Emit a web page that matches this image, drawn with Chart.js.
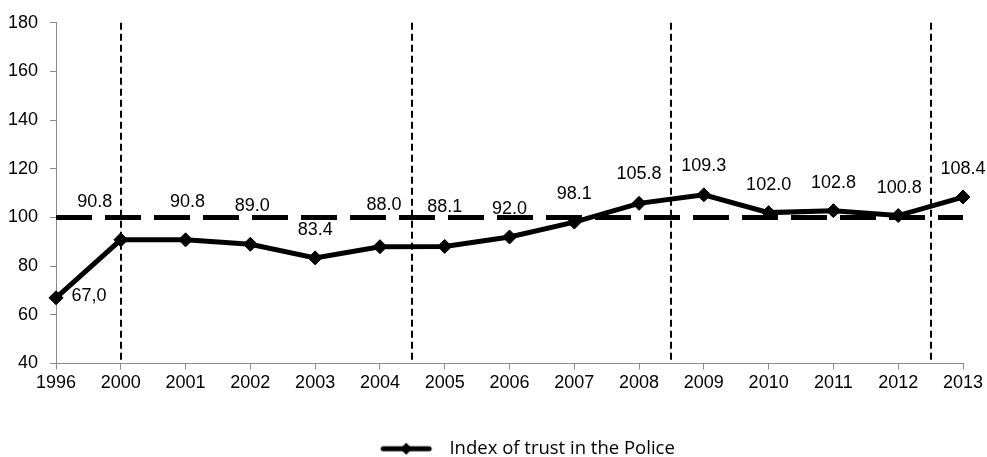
<!DOCTYPE html>
<html lang="en">
<head>
    <meta charset="UTF-8">
    <title>Index of trust in the Police</title>
    <script src="https://cdn.jsdelivr.net/npm/chart.js"></script>
    <style>
        body {
            margin: 0;
            background-color: #fff;
        }
        #wrap {
            width: 987px;
            height: 457px;
            position: relative;
        }
    </style>
</head>
<body>

<div id="wrap">
    <canvas id="trustChart"></canvas>
</div>

<script>
    // Dados
    const years = ['1996', '2000', '2001', '2002', '2003', '2004', '2005', '2006',
                   '2007', '2008', '2009', '2010', '2011', '2012', '2013'];
    const trustIndex = [67.0, 90.8, 90.8, 89.0, 83.4, 88.0, 88.1, 92.0,
                        98.1, 105.8, 109.3, 102.0, 102.8, 100.8, 108.4];
    const valueLabels = ['67,0', '90.8', '90.8', '89.0', '83.4', '88.0', '88.1', '92.0',
                         '98.1', '105.8', '109.3', '102.0', '102.8', '100.8', '108.4'];
    const referenceLevel = 100;
    // posições (em índice de categoria) das linhas verticais tracejadas
    const periodBreaks = [1, 5.5, 9.5, 13.5];
    const yMin = 40;
    const yMax = 180;
    const yStep = 20;

    const axisGray = '#8a8a8a';
    const tickFont = { family: '"Liberation Sans", Arial, sans-serif', size: 18 };

    // deslocamento de cada rótulo em relação ao ponto (dx, dy)
    const labelOffsets = [
        [33, -2], [-26, -38], [2, -38], [2, -38], [0, -28], [4, -42], [0, -39], [0, -28],
        [0, -28], [0, -29], [0, -29], [0, -28], [0, -28], [1, -28], [0, -28]
    ];

    // Símbolo da legenda: linha grossa com losango (espaço vazio à esquerda para deslocar a legenda)
    const legendLead = 92;
    function legendSymbol() {
        const c = document.createElement('canvas');
        c.width = legendLead + 60;
        c.height = 14;
        const g = c.getContext('2d');
        g.strokeStyle = '#000';
        g.lineWidth = 5;
        g.lineCap = 'round';
        g.beginPath();
        g.moveTo(legendLead + 3, 7);
        g.lineTo(legendLead + 49, 7);
        g.stroke();
        g.fillStyle = '#000';
        g.beginPath();
        g.moveTo(legendLead + 26, 1);
        g.lineTo(legendLead + 32, 7);
        g.lineTo(legendLead + 26, 13);
        g.lineTo(legendLead + 20, 7);
        g.closePath();
        g.fill();
        return c;
    }

    // Linhas verticais tracejadas
    const periodLines = {
        id: 'periodLines',
        beforeDatasetsDraw(chart) {
            const { ctx, chartArea, scales } = chart;
            ctx.save();
            ctx.strokeStyle = '#000';
            ctx.lineWidth = 2;
            ctx.setLineDash([7, 4]);
            periodBreaks.forEach(pos => {
                const x = Math.round(scales.x.getPixelForValue(pos));
                ctx.beginPath();
                ctx.moveTo(x, chartArea.top);
                ctx.lineTo(x, chartArea.bottom);
                ctx.stroke();
            });
            ctx.restore();
        }
    };

    // Rótulos de valores
    const valueLabelPlugin = {
        id: 'valueLabelPlugin',
        afterDatasetsDraw(chart) {
            const { ctx } = chart;
            const meta = chart.getDatasetMeta(0);
            ctx.save();
            ctx.fillStyle = '#000';
            ctx.font = '18px "Liberation Sans", Arial, sans-serif';
            ctx.textAlign = 'center';
            ctx.textBaseline = 'middle';
            meta.data.forEach((pt, i) => {
                const off = labelOffsets[i];
                ctx.fillText(valueLabels[i], pt.x + off[0], pt.y + off[1]);
            });
            ctx.restore();
        }
    };

    const ctx = document.getElementById('trustChart').getContext('2d');
    const trustChart = new Chart(ctx, {
        type: 'line',
        data: {
            labels: years,
            datasets: [
                {
                    label: 'Index of trust in the Police',
                    data: trustIndex,
                    borderColor: '#000',
                    backgroundColor: '#000',
                    borderWidth: 5,
                    pointStyle: 'rectRot',
                    pointRadius: 7,
                    pointHoverRadius: 7,
                    pointBackgroundColor: '#000',
                    pointBorderColor: '#000',
                    pointBorderWidth: 1,
                    tension: 0,
                    fill: false
                },
                {
                    label: 'reference',
                    data: years.map(() => referenceLevel),
                    borderColor: '#000',
                    borderWidth: 5,
                    borderDash: [36, 13],
                    pointRadius: 0,
                    pointHoverRadius: 0,
                    fill: false
                }
            ]
        },
        options: {
            responsive: true,
            maintainAspectRatio: false,
            animation: false,
            layout: {
                padding: { top: 13, right: 24, bottom: -11, left: 0 }
            },
            scales: {
                x: {
                    offset: false,
                    border: { color: axisGray, width: 1 },
                    grid: {
                        display: true,
                        drawOnChartArea: false,
                        drawTicks: true,
                        tickLength: 6,
                        color: axisGray
                    },
                    ticks: {
                        color: '#000',
                        font: tickFont,
                        padding: 3,
                        maxRotation: 0,
                        autoSkip: false
                    },
                    afterFit(scale) {
                        scale.height = 74;
                    }
                },
                y: {
                    min: yMin,
                    max: yMax,
                    border: { color: axisGray, width: 1 },
                    grid: {
                        display: true,
                        drawOnChartArea: false,
                        drawTicks: true,
                        tickLength: 6,
                        color: axisGray
                    },
                    ticks: {
                        stepSize: yStep,
                        color: '#000',
                        font: tickFont,
                        padding: 12
                    },
                    afterFit(scale) {
                        scale.width = 56;
                    }
                }
            },
            plugins: {
                legend: {
                    position: 'bottom',
                    labels: {
                        usePointStyle: true,
                        pointStyleWidth: legendLead + 60,
                        padding: 2,
                        color: '#000',
                        font: { family: '"Open Sans", sans-serif', size: 18.5 },
                        generateLabels(chart) {
                            return [{
                                text: 'Index of trust in the Police',
                                pointStyle: legendSymbol(),
                                datasetIndex: 0,
                                fillStyle: '#000',
                                strokeStyle: '#000',
                                lineWidth: 0,
                                fontColor: '#000'
                            }];
                        }
                    }
                },
                tooltip: { enabled: false }
            }
        },
        plugins: [periodLines, valueLabelPlugin]
    });
</script>

</body>
</html>
